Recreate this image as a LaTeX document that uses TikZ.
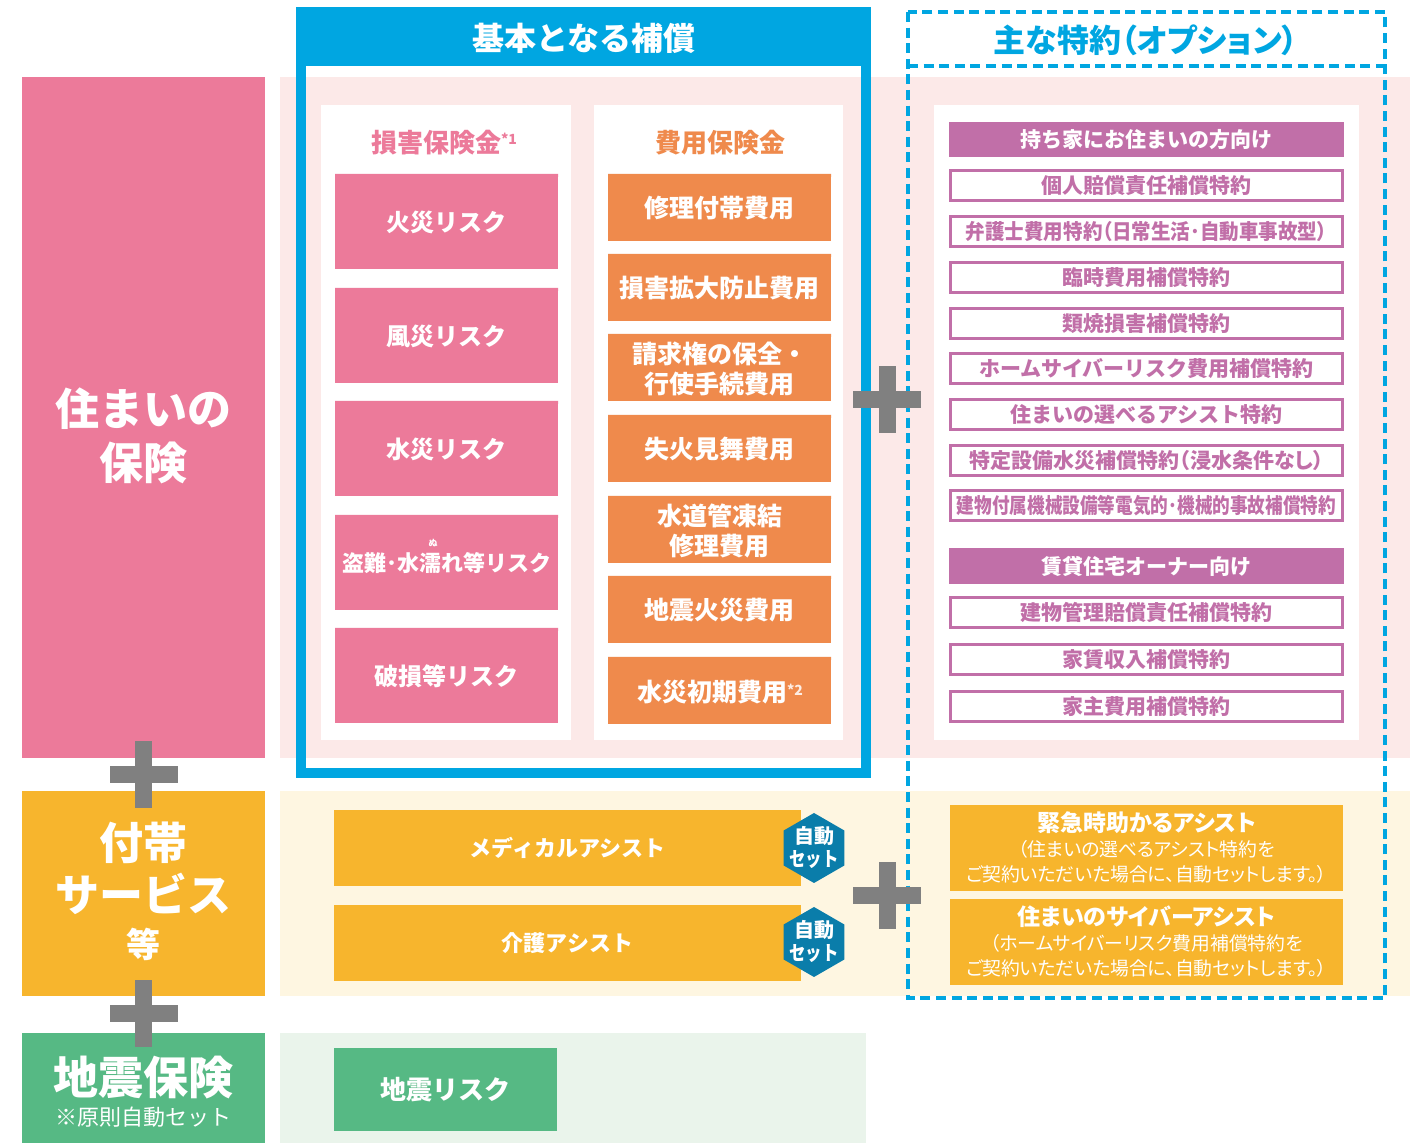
\documentclass[tikz,border=0pt]{standalone}
\usepackage{fontspec}
\setmainfont{Noto Sans CJK JP}
\usepackage{graphicx}
\usetikzlibrary{shapes.geometric}
\definecolor{pinkmain}{HTML}{EC7A9A}
\definecolor{pinkband}{HTML}{FCE9E8}
\definecolor{orangeitem}{HTML}{EF8A4C}
\definecolor{cyanblue}{HTML}{00A6E1}
\definecolor{optpurple}{HTML}{C16FA8}
\definecolor{yellowmain}{HTML}{F7B52D}
\definecolor{creamband}{HTML}{FEF6E1}
\definecolor{greenmain}{HTML}{56B984}
\definecolor{greenband}{HTML}{EAF4EB}
\definecolor{plusgray}{HTML}{808080}
\definecolor{hexblue}{HTML}{0A7DAA}
\newcommand\jfs[2]{\fontsize{#1}{#2}\selectfont}
\newcommand\palton{\addfontfeature{RawFeature=+palt}}
\newcommand\plussign[2]{%
  \fill[plusgray] ({#1-34},{#2-8.5}) rectangle ({#1+34},{#2+8.5});
  \fill[plusgray] ({#1-8.5},{#2-33.5}) rectangle ({#1+8.5},{#2+33.5});}
\begin{document}
\begin{tikzpicture}[x=0.5pt,y=-0.5pt,
  every node/.style={inner sep=0pt,outer sep=0pt},
  block/.style={anchor=north west,minimum width=121.5pt},
  biglabel/.style={text=white,align=center,font=\bfseries\jfs{22}{27}},
  tile/.style={anchor=north west,align=center,text=white,minimum width=111.5pt},
  pinktile/.style={tile,fill=pinkmain,minimum height=46.5pt,font=\bfseries\jfs{12}{15}},
  orangetile/.style={tile,fill=orangeitem,minimum height=32.5pt,font=\bfseries\jfs{12.5}{15}},
  optitem/.style={anchor=north west,draw=optpurple,line width=1.5pt,fill=white,
    minimum width=196pt,minimum height=15pt,text=optpurple,font=\bfseries\jfs{10.5}{12}},
  opthead/.style={anchor=north west,fill=optpurple,minimum width=197.5pt,
    text=white,font=\bfseries\jfs{10.5}{12}},
  assistbar/.style={anchor=north west,fill=yellowmain,minimum width=233.5pt,minimum height=38pt,
    text=white,font=\bfseries\jfs{11}{13}},
  assistopt/.style={anchor=north west,fill=yellowmain,minimum width=196.5pt,minimum height=43pt,
    text=white,align=center,font=\jfs{9.4}{12.5}\palton},
  hexbadge/.style={regular polygon,regular polygon sides=6,shape border rotate=30,
    minimum size=35pt,fill=hexblue},
  hextext/.style={text=white,align=center,font=\bfseries\jfs{10}{11.5}}
]
\useasboundingbox (0,0) rectangle (1410,1143);

% left blocks
\node[block,fill=pinkmain,minimum height=340.5pt] (homeblock) at (22,77) {};
\node[biglabel] (homelabel) at (143.5,436) {住まいの\\保険};
\node[block,fill=yellowmain,minimum height=102.5pt] (serviceblock) at (22,791) {};
\node[biglabel] (svc1) at (143.5,843) {付帯};
\node[biglabel] (svc2) at (143.5,894) {サービス};
\node[text=white,font=\bfseries\jfs{17}{20}] (svc3) at (143.5,944) {等};
\node[block,fill=greenmain,minimum height=55pt] (quakeblock) at (22,1033) {};
\node[text=white,font=\bfseries\jfs{22.5}{26}] (quakelabel) at (143.5,1078) {地震保険};
\node[text=white,font=\jfs{11}{13}] (quakenote) at (143.5,1117) {※原則自動セット};

% blue box base and bands
\fill[white] (296,7) rectangle (871,778);
\fill[pinkband] (280,77) rectangle (1410,758);
\fill[creamband] (280,791) rectangle (1410,996);
\fill[greenband] (280,1033) rectangle (866,1143);

% blue box frame
\draw[cyanblue,line width=5pt] (301,12) rectangle (866,773);
\node[anchor=north west,fill=cyanblue,minimum width=287.5pt,minimum height=29.5pt] (basehead) at (296,7) {};
\node[text=white,font=\bfseries\jfs{16}{18}] (baseheadtext) at (584,38) {基本となる補償};

% white panels
\fill[white] (321,105) rectangle (571,740);
\fill[white] (594,105) rectangle (843,740);
\fill[white] (934,105) rectangle (1359,740);

% column heads
\node[text=pinkmain,font=\bfseries\jfs{13}{15}] (damagehead) at (436,143) {損害保険金\rlap{\raisebox{4pt}{\jfs{7}{7}*1}}};
\node[text=orangeitem,font=\bfseries\jfs{13}{15}] (costhead) at (720,143) {費用保険金};

% damage tiles
\node[pinktile] (fire) at (335,176) {火災リスク};
\node[pinktile] (wind) at (335,290) {風災リスク};
\node[pinktile] (flood) at (335,403) {水災リスク};
\node[pinktile,font=\bfseries\jfs{11}{13}] (theft) at (335,517) {盗難･水濡れ等リスク};
\node[text=white,font=\bfseries\jfs{4.5}{5}] (ruby) at (433,543) {ぬ};
\node[pinktile] (breakage) at (335,630) {破損等リスク};
\fill[pinkmain] (335,174) rectangle (558,177) (335,288) rectangle (558,291) (335,401) rectangle (558,404) (335,515) rectangle (558,518) (335,628) rectangle (558,631);

% cost tiles
\node[orangetile] (repair) at (608,176) {修理付帯費用};
\node[orangetile] (spread) at (608,256) {損害拡大防止費用};
\node[orangetile] (claim) at (608,336) {請求権の保全・\\行使手続費用};
\node[orangetile] (sympathy) at (608,417) {失火見舞費用};
\node[orangetile] (pipe) at (608,498) {水道管凍結\\修理費用};
\node[orangetile] (quakefire) at (608,578) {地震火災費用};
\node[orangetile] (floodcost) at (608,659) {};
\fill[orangeitem] (608,174) rectangle (831,177) (608,254) rectangle (831,257) (608,334) rectangle (831,337) (608,415) rectangle (831,418) (608,496) rectangle (831,499) (608,576) rectangle (831,579) (608,657) rectangle (831,660);
\node[text=white,font=\bfseries\jfs{12.5}{15}] (floodcosttext) at (712,692) {水災初期費用\rlap{\raisebox{3pt}{\jfs{7}{7}\color{white!85!orangeitem}*2}}};

% options
\node[opthead,minimum height=17.5pt] (ownerhead) at (949,122) {持ち家にお住まいの方向け};
\node[optitem] (opt1) at (950.5,170.5) {個人賠償責任補償特約};
\node[optitem] (opt2) at (950.5,216.5) {\scalebox{0.93}[1]{\palton 弁護士費用特約（日常生活･自動車事故型）}};
\node[optitem] (opt3) at (950.5,262.5) {臨時費用補償特約};
\node[optitem] (opt4) at (950.5,308.5) {類焼損害補償特約};
\node[optitem] (opt5) at (950.5,353.5) {ホームサイバーリスク費用補償特約};
\node[optitem] (opt6) at (950.5,399.5) {住まいの選べるアシスト特約};
\node[optitem] (opt7) at (950.5,445.5) {\palton 特定設備水災補償特約（浸水条件なし）};
\node[optitem] (opt8) at (950.5,490.5) {\scalebox{0.84}[1]{建物付属機械設備等電気的･機械的事故補償特約}};
\node[opthead,minimum height=18pt] (landlordhead) at (949,548) {賃貸住宅オーナー向け};
\node[optitem] (opt9) at (950.5,597.5) {建物管理賠償責任補償特約};
\node[optitem] (opt10) at (950.5,644.5) {家賃収入補償特約};
\node[optitem] (opt11) at (950.5,691.5) {家主費用補償特約};

% assists
\node[assistbar] (medical) at (334,810) {メディカルアシスト};
\node[assistbar] (care) at (334,905) {介護アシスト};
\node[hexbadge] (hexa) at (814,848) {};
\node[hextext] (hexatext) at (814,847) {自動\\\scalebox{0.82}[1]{セット}};
\node[hexbadge] (hexb) at (814,942) {};
\node[hextext] (hexbtext) at (814,941) {自動\\\scalebox{0.82}[1]{セット}};
\node[assistopt] (emergency) at (950,805) {{\bfseries\jfs{11.5}{12.5}緊急時助かるアシスト}\\（住まいの選べるアシスト特約を\\ご契約いただいた場合に、自動セットします。）};
\node[assistopt] (cyber) at (950,899) {{\bfseries\jfs{11.5}{12.5}住まいのサイバーアシスト}\\（ホームサイバーリスク費用補償特約を\\ご契約いただいた場合に、自動セットします。）};

% earthquake tile
\node[tile,fill=greenmain,minimum height=41.5pt,font=\bfseries\jfs{13}{15}] (quakerisk) at (334,1048) {地震リスク};

% dashed option frame
\draw[cyanblue,line width=2pt,dash pattern=on 5pt off 2.8pt] (908,12) rectangle (1385,998);
\draw[cyanblue,line width=2pt,dash pattern=on 5pt off 2.8pt] (908,66) -- (1385,66);
\node[text=cyanblue,font=\bfseries\jfs{16}{18}\palton] (opthead) at (1146,40) {主な特約（オプション）};

% plus signs
\plussign{143.5}{774.5}
\plussign{143.5}{1013.5}
\plussign{887}{399.5}
\plussign{887}{895.5}
\end{tikzpicture}
\end{document}
